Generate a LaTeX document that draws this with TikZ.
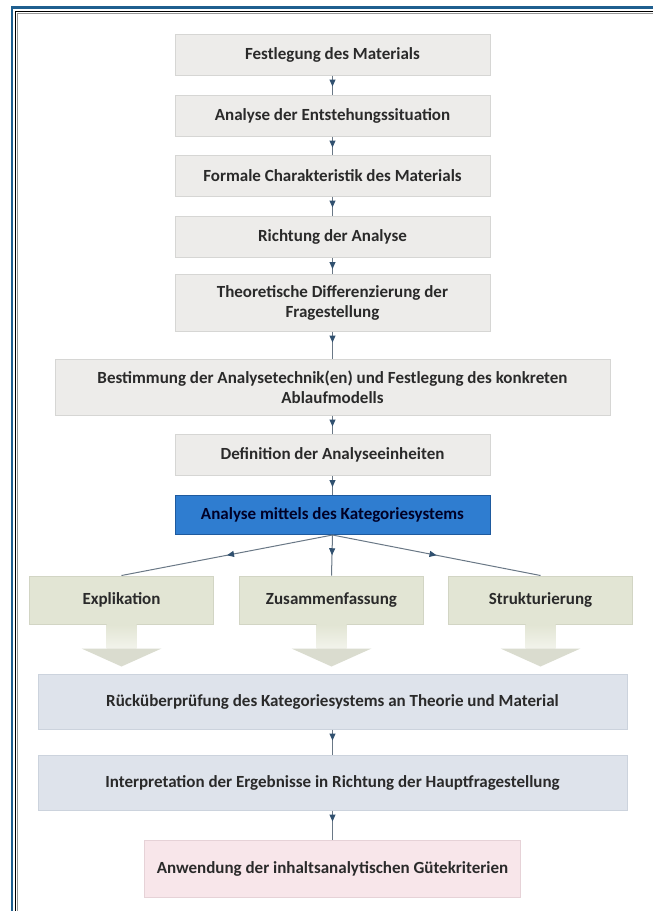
\documentclass[tikz,border=0pt]{standalone}
\usepackage{fontspec}
\setmainfont{Carlito}
\usetikzlibrary{arrows.meta,decorations.markings,calc}

\definecolor{framebl}{HTML}{1F5F8F}
\definecolor{boxgray}{HTML}{EDECEA}
\definecolor{boxedge}{HTML}{D6D6D4}
\definecolor{bluefill}{HTML}{2F7DD0}
\definecolor{blueedge}{HTML}{1E5A9E}
\definecolor{olivefill}{HTML}{E2E5D4}
\definecolor{oliveedge}{HTML}{D2D5C4}
\definecolor{headc}{HTML}{DADCCF}
\definecolor{steelfill}{HTML}{DEE3EB}
\definecolor{steeledge}{HTML}{CCD3DD}
\definecolor{pinkfill}{HTML}{F8E6EA}
\definecolor{pinkedge}{HTML}{E6D2D7}
\definecolor{txt}{HTML}{2A2A2A}
\definecolor{linec}{HTML}{6A7886}
\definecolor{tipc}{HTML}{30506F}

\begin{document}
\begin{tikzpicture}[x=1pt,y=-1pt,
  base/.style={rectangle, inner sep=0pt, align=center, text=txt,
    font=\fontsize{17}{20}\selectfont\bfseries, line width=1pt},
  graybox/.style={base, fill=boxgray, draw=boxedge},
  narrowbox/.style={graybox, minimum width=315, minimum height=41},
  bluebox/.style={base, fill=bluefill, draw=blueedge, text=black!85!blue,
    minimum width=315, minimum height=39},
  olivebox/.style={base, fill=olivefill, draw=oliveedge,
    minimum width=184, minimum height=48},
  steelbox/.style={base, fill=steelfill, draw=steeledge,
    minimum width=589, minimum height=55},
  pinkbox/.style={base, fill=pinkfill, draw=pinkedge,
    minimum width=376, minimum height=57},
  conn/.style={draw=linec, line width=1pt, postaction={decorate},
    decoration={markings, mark=at position 11pt with
      {\arrow[tipc]{Triangle[width=6pt,length=7pt]}}}},
  diag/.style={draw=linec, line width=1pt, postaction={decorate},
    decoration={markings, mark=at position 0.5 with
      {\arrow[tipc]{Triangle[width=6pt,length=7pt]}}}},
  stem/.style={top color=olivefill, bottom color=olivefill!45!white},
  head/.style={fill=headc}
]
% page and frame
\fill[white] (0,0) rectangle (653,911);
\useasboundingbox (0,0) rectangle (653,911);
\draw[framebl, line width=2.5] (12,911) -- (12,7.5) -- (653,7.5);
\draw[black, line width=1.4] (15.5,911) -- (15.5,11.5) -- (653,11.5);
\draw[black!40, line width=0.8] (17,911) -- (17,13) -- (653,13);

% upper chain of steps
\node[narrowbox] (b1) at (332.5,54.5) {Festlegung des Materials};
\node[narrowbox] (b2) at (332.5,115.5) {Analyse der Entstehungssituation};
\node[narrowbox] (b3) at (332.5,175.5) {Formale Charakteristik des Materials};
\node[narrowbox] (b4) at (332.5,237) {Richtung der Analyse};
\node[graybox, minimum width=315, minimum height=57] (b5) at (332.5,302.5)
  {Theoretische Differenzierung der\\Fragestellung};
\node[graybox, minimum width=555, minimum height=56] (b6) at (332.5,387)
  {Bestimmung der Analysetechnik(en) und Festlegung des konkreten\\Ablaufmodells};
\node[narrowbox] (b7) at (332.5,455) {Definition der Analyseeinheiten};
\node[bluebox] (b8) at (332.5,515) {Analyse mittels des Kategoriesystems};

\draw[conn] (b1.south) -- (b2.north);
\draw[conn] (b2.south) -- (b3.north);
\draw[conn] (b3.south) -- (b4.north);
\draw[conn] (b4.south) -- (b5.north);
\draw[conn] (b5.south) -- (b6.north);
\draw[conn] (b6.south) -- (b7.north);
\draw[conn] (b7.south) -- (b8.north);

% three techniques with block arrows
\node[olivebox] (expl) at (121.5,600) {Explikation};
\node[olivebox] (zus) at (331.5,600) {Zusammenfassung};
\node[olivebox] (str) at (540.5,600) {Strukturierung};

\foreach \t in {expl,zus,str}{
  \shade[stem] ($(\t.south)+(-15,0)$) rectangle ($(\t.south)+(15,24)$);
  \fill[head] ($(\t.south)+(-40,24)$) -- ($(\t.south)+(40,24)$)
    -- ($(\t.south)+(0,42)$) -- cycle;
}

\draw[diag] (b8.south) -- (expl.north);
\draw[diag] (b8.south) -- (zus.north);
\draw[diag] (b8.south) -- (str.north);

% lower chain
\node[steelbox] (b10) at (332.5,701.5)
  {Rücküberprüfung des Kategoriesystems an Theorie und Material};
\node[steelbox] (b11) at (332.5,782.5)
  {Interpretation der Ergebnisse in Richtung der Hauptfragestellung};
\node[pinkbox] (b12) at (332.5,868.5)
  {Anwendung der inhaltsanalytischen Gütekriterien};

\draw[conn] (b10.south) -- (b11.north);
\draw[conn] (b11.south) -- (b12.north);
\end{tikzpicture}
\end{document}
